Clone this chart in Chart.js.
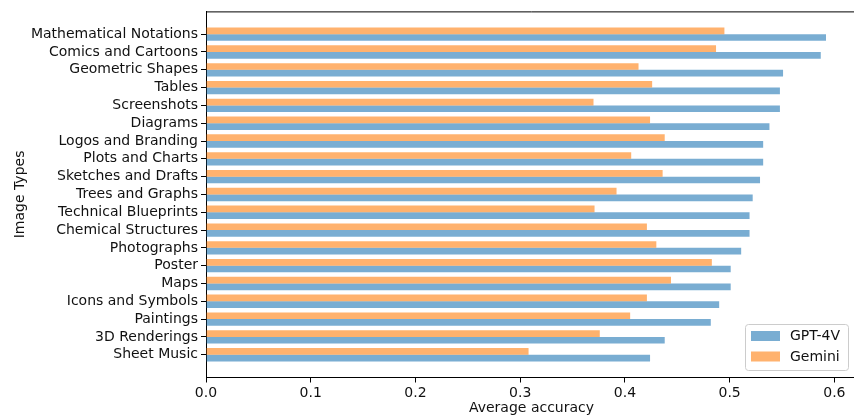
<!DOCTYPE html>
<html>
<head>
<meta charset="utf-8">
<script src="https://cdn.jsdelivr.net/npm/chart.js@4.4.0/dist/chart.umd.min.js"></script>
<style>
  html, body { margin: 0; padding: 0; background: #fff; overflow: hidden; }
  #chart { display: block; }
</style>
</head>
<body>
<canvas id="chart" width="860" height="417"></canvas>
<script>
// image types, top to bottom
var categories = [
  'Mathematical Notations', 'Comics and Cartoons', 'Geometric Shapes', 'Tables',
  'Screenshots', 'Diagrams', 'Logos and Branding', 'Plots and Charts',
  'Sketches and Drafts', 'Trees and Graphs', 'Technical Blueprints',
  'Chemical Structures', 'Photographs', 'Poster', 'Maps', 'Icons and Symbols',
  'Paintings', '3D Renderings', 'Sheet Music'
];
var gpt4v = [0.592, 0.587, 0.551, 0.548, 0.548, 0.538, 0.532, 0.532, 0.529, 0.522,
  0.519, 0.519, 0.511, 0.501, 0.501, 0.490, 0.482, 0.438, 0.424];
var gemini = [0.495, 0.487, 0.413, 0.426, 0.370, 0.424, 0.438, 0.406, 0.436, 0.392,
  0.371, 0.421, 0.430, 0.483, 0.444, 0.421, 0.405, 0.376, 0.308];
var xTicks = [0, 0.1, 0.2, 0.3, 0.4, 0.5, 0.6];

var FONT = 'DejaVu Sans';
var FSIZE = 14;
var TEXT = '#111';

function toPoints(values) {
  return values.map(function (v, i) { return { x: v, y: i }; });
}

// top/right spines + legend inside the plot, bottom right
const insideLegend = {
  id: 'insideLegend',
  afterDraw(chart) {
    const ctx = chart.ctx;
    const a = chart.chartArea;
    ctx.save();
    ctx.strokeStyle = '#000';
    ctx.lineWidth = 1;
    ctx.beginPath();
    ctx.moveTo(a.left, a.top + 0.5);
    ctx.lineTo(a.right, a.top + 0.5);
    ctx.lineTo(a.right, a.bottom);
    ctx.stroke();

    // GPT-4V first
    const items = chart.data.datasets.slice().reverse();
    const boxX = 745.5, boxY = 324.5, boxW = 103, boxH = 46;
    ctx.fillStyle = 'rgba(255,255,255,0.8)';
    ctx.strokeStyle = '#cccccc';
    ctx.beginPath();
    ctx.roundRect(boxX, boxY, boxW, boxH, 3);
    ctx.fill();
    ctx.stroke();
    ctx.font = FSIZE + 'px "' + FONT + '"';
    ctx.textBaseline = 'middle';
    items.forEach(function (ds, i) {
      const y = 331 + i * 20.5;
      ctx.fillStyle = ds.backgroundColor;
      ctx.fillRect(751, y, 29, 10);
      ctx.fillStyle = TEXT;
      ctx.fillText(ds.label, 790, y + 5.5);
    });
    ctx.restore();
  }
};

const config = {
  type: 'bar',
  data: {
    datasets: [
      {
        label: 'Gemini',
        data: toPoints(gemini),
        backgroundColor: 'rgba(255,127,14,0.6)',
        borderWidth: 0
      },
      {
        label: 'GPT-4V',
        data: toPoints(gpt4v),
        backgroundColor: 'rgba(31,119,180,0.6)',
        borderWidth: 0
      }
    ]
  },
  options: {
    indexAxis: 'y',
    responsive: false,
    animation: false,
    devicePixelRatio: 1,
    categoryPercentage: 0.75,
    barPercentage: 1.0,
    layout: { padding: { top: 10, right: 3, left: 0, bottom: 0 } },
    plugins: {
      legend: { display: false },
      tooltip: { enabled: false }
    },
    scales: {
      x: {
        type: 'linear',
        min: 0,
        max: 0.6216,
        offset: false,
        afterBuildTicks: function (scale) {
          scale.ticks = xTicks.map(function (v) { return { value: v }; });
        },
        afterFit: function (scale) { scale.height = 39.5; },
        grid: {
          drawOnChartArea: false,
          offset: false,
          tickLength: 5,
          tickColor: '#000',
          tickWidth: 1
        },
        border: { display: true, color: '#000', width: 1 },
        ticks: {
          color: TEXT,
          padding: 2,
          maxRotation: 0,
          font: { family: FONT, size: FSIZE },
          callback: function (v) { return Number(v).toFixed(1); }
        },
        title: {
          display: true,
          text: 'Average accuracy',
          color: TEXT,
          font: { family: FONT, size: FSIZE },
          padding: { top: 0, bottom: 0 }
        }
      },
      y: {
        type: 'linear',
        reverse: true,
        offset: false,
        min: -1.28,
        max: 18 + 1.28,
        afterBuildTicks: function (scale) {
          scale.ticks = categories.map(function (c, i) { return { value: i }; });
        },
        afterFit: function (scale) { scale.width = 206; },
        grid: {
          drawOnChartArea: false,
          offset: false,
          tickLength: 5,
          tickColor: '#000',
          tickWidth: 1
        },
        border: { display: true, color: '#000', width: 1 },
        ticks: {
          color: TEXT,
          padding: 3,
          autoSkip: false,
          font: { family: FONT, size: FSIZE },
          callback: function (v) { return categories[v]; }
        },
        title: {
          display: true,
          text: 'Image Types',
          color: TEXT,
          font: { family: FONT, size: FSIZE },
          padding: { top: 12, bottom: 0 }
        }
      }
    }
  },
  plugins: [insideLegend]
};

new Chart(document.getElementById('chart'), config);
</script>
</body>
</html>
